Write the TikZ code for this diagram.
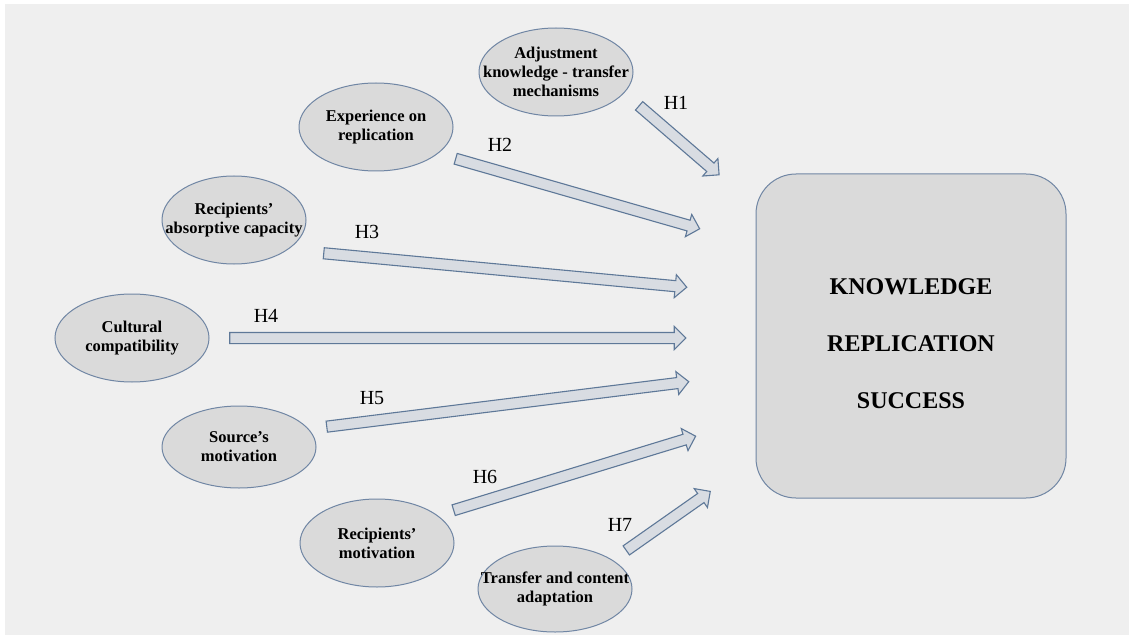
\documentclass[tikz,border=0pt]{standalone}
\usepackage{fontspec}
\setmainfont{Liberation Serif}
\usepackage{xcolor}
\usepackage{tikz}
\usetikzlibrary{shapes.geometric,shapes.arrows,calc}

\definecolor{bggray}{RGB}{239,239,239}
\definecolor{nodefill}{RGB}{218,218,218}
\definecolor{nodeline}{RGB}{112,134,164}
\definecolor{arrfill}{RGB}{216,220,226}
\definecolor{arrline}{RGB}{94,120,152}

\newcommand{\hyparrow}[3]{%
  \path let \p1=($(#3)-(#2)$), \n1={veclen(\x1,\y1)}, \n2={atan2(\y1,\x1)} in
    node[hyp, minimum height=\n1, rotate=\n2] (#1) at ($(#2)!0.5!(#3)$) {};}

\begin{document}
\begin{tikzpicture}[
  x=1pt, y=-1pt,
  pill/.style={ellipse, draw=nodeline, fill=nodefill, line width=1pt,
               minimum width=154pt, minimum height=88pt, inner sep=0pt},
  ptext/.style={font=\bfseries\fontsize{16.5}{19}\selectfont, align=center, inner sep=0pt},
  hyp/.style={single arrow, draw=arrline, fill=arrfill, line width=1.1pt,
              inner sep=5pt, single arrow head extend=6pt,
              single arrow tip angle=90},
  hlab/.style={font=\fontsize{20}{24}\selectfont, inner sep=0pt},
  goal/.style={rectangle, rounded corners=40pt, draw=nodeline, fill=nodefill,
               line width=1pt, minimum width=310pt, minimum height=324pt}
]
\fill[white] (0,0) rectangle (1134,639);
\fill[bggray] (5,4) rectangle (1129,635);

\node[pill, label={[ptext]center:Adjustment\\knowledge - transfer\\mechanisms}] (adj) at (556,72) {};
\node[pill, label={[ptext]center:Experience on\\replication}] (exp) at (376,127) {};
\node[pill, minimum width=144pt, label={[ptext]center:Recipients’\\absorptive capacity}] (abs) at (234,220) {};
\node[pill, label={[ptext]center:Cultural\\compatibility}] (cul) at (132,338) {};
\node[pill, minimum height=82pt, label={[ptext]center:Source’s\\motivation}] (src) at (239,447) {};
\node[pill, label={[ptext]center:Recipients’\\motivation}] (rmot) at (377,543) {};
\node[pill, minimum height=86pt, label={[ptext]center:Transfer and content\\adaptation}] (tca) at (555,589) {};

\node[goal, label={[font=\bfseries\fontsize{24}{57}\selectfont, align=center, yshift=-8pt]center:KNOWLEDGE\\REPLICATION\\SUCCESS}] (krs) at (911,336) {};

\coordinate (t1) at (637,104); \coordinate (e1) at (717,173);
\coordinate (t2) at (453,158); \coordinate (e2) at (697,228);
\coordinate (t3) at (321,253); \coordinate (e3) at (684,287);
\coordinate (t4) at (227,338); \coordinate (e4) at (683,338);
\coordinate (t5) at (324,427); \coordinate (e5) at (686,382);
\coordinate (t6) at (451,511); \coordinate (e6) at (693,437);
\coordinate (t7) at (624,552); \coordinate (e7) at (708,493);

\hyparrow{a1}{t1}{e1}
\hyparrow{a2}{t2}{e2}
\hyparrow{a3}{t3}{e3}
\hyparrow{a4}{t4}{e4}
\hyparrow{a5}{t5}{e5}
\hyparrow{a6}{t6}{e6}
\hyparrow{a7}{t7}{e7}

\node[hlab] (h1) at (676,103) {H1};
\node[hlab] (h2) at (500,145) {H2};
\node[hlab] (h3) at (367,232) {H3};
\node[hlab] (h4) at (266,316) {H4};
\node[hlab] (h5) at (372,398) {H5};
\node[hlab] (h6) at (485,477) {H6};
\node[hlab] (h7) at (620,525) {H7};
\end{tikzpicture}
\end{document}
